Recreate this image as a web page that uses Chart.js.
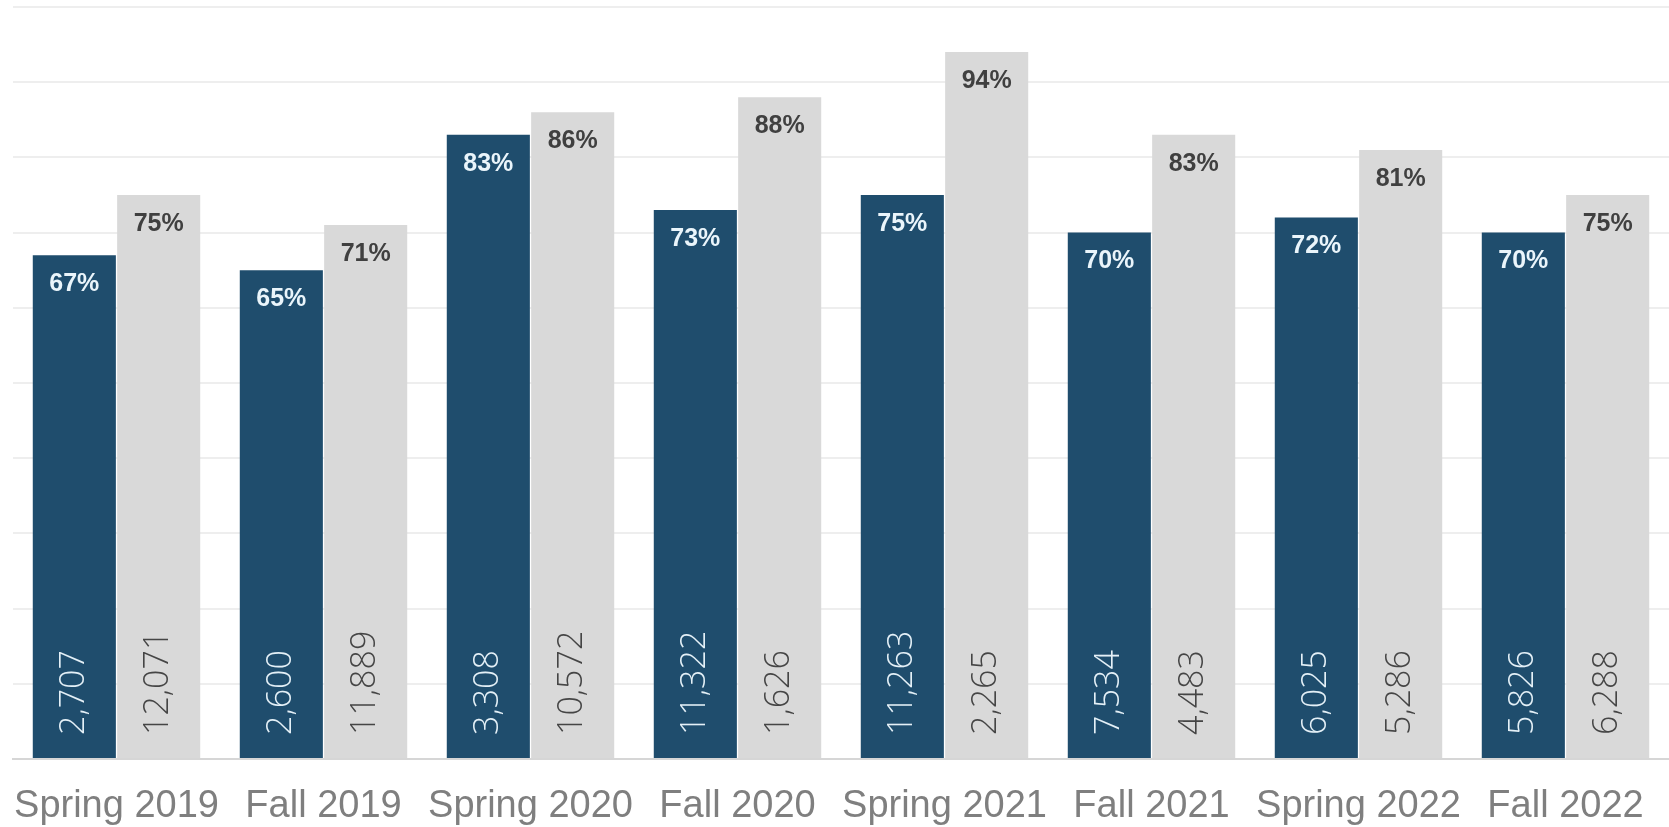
<!DOCTYPE html>
<html>
<head>
<meta charset="utf-8">
<script src="https://cdn.jsdelivr.net/npm/chart.js@4"></script>
<style>
  body { margin: 0; background: #fff; }
  #wrap { width: 1669px; height: 827px; }
</style>
</head>
<body>
<div id="wrap"><canvas id="termChart"></canvas></div>
<script>
const terms = ['Spring 2019', 'Fall 2019', 'Spring 2020', 'Fall 2020', 'Spring 2021', 'Fall 2021', 'Spring 2022', 'Fall 2022'];
const darkPct = [67, 65, 83, 73, 75, 70, 72, 70];
const lightPct = [75, 71, 86, 88, 94, 83, 81, 75];
const darkCount = [2707, 2600, 3308, 11322, 11263, 7534, 6025, 5826];
const lightCount = [12071, 11889, 10572, 1626, 2265, 4483, 5286, 6288];
const yTicks = [0, 10, 20, 30, 40, 50, 60, 70, 80, 90, 100];

const counts = [darkCount, lightCount];
const pctColors = ['#eaf5fb', '#404040'];
const countColors = ['#e4f0f7', '#454545'];

const barLabels = {
    id: 'barLabels',
    afterDatasetsDraw(chart) {
        const c = chart.ctx;
        chart.data.datasets.forEach((ds, i) => {
            const meta = chart.getDatasetMeta(i);
            meta.data.forEach((bar, j) => {
                c.save();
                c.fillStyle = pctColors[i];
                c.font = 'bold 25px "Liberation Sans", Arial, sans-serif';
                c.textAlign = 'center';
                c.textBaseline = 'middle';
                c.fillText(ds.data[j] + '%', bar.x, bar.y + 29);

                c.translate(bar.x, bar.base - 23);
                c.rotate(-Math.PI / 2);
                c.fillStyle = countColors[i];
                c.font = '300 34px "Open Sans", sans-serif';
                c.textAlign = 'left';
                c.textBaseline = 'middle';
                c.fillText(counts[i][j].toLocaleString('en-US'), 0, 0);
                c.restore();
            });
        });
    }
};

const ctx = document.getElementById('termChart').getContext('2d');
new Chart(ctx, {
    type: 'bar',
    data: {
        labels: terms,
        datasets: [
            {
                label: 'Group A',
                data: darkPct,
                backgroundColor: '#1f4d6d',
                categoryPercentage: 0.815,
                barPercentage: 0.985
            },
            {
                label: 'Group B',
                data: lightPct,
                backgroundColor: '#d9d9d9',
                categoryPercentage: 0.815,
                barPercentage: 0.985
            }
        ]
    },
    options: {
        responsive: true,
        maintainAspectRatio: false,
        animation: false,
        layout: { padding: { left: 13, top: 7, right: 0, bottom: 0 } },
        plugins: {
            legend: { display: false },
            tooltip: { enabled: false }
        },
        scales: {
            x: {
                grid: { display: false, drawTicks: false },
                border: { color: '#d6d6d6', width: 2 },
                afterFit: (axis) => {
                    axis.height = 68;
                    axis.paddingLeft = 0;
                    axis.paddingRight = 0;
                },
                ticks: {
                    color: '#7f7f7f',
                    padding: 25,
                    maxRotation: 0,
                    minRotation: 0,
                    autoSkip: false,
                    font: { family: '"Liberation Sans", Arial, sans-serif', size: 38 }
                }
            },
            y: {
                min: 0,
                max: 100,
                afterFit: (axis) => { axis.width = 0; },
                afterBuildTicks: (axis) => { axis.ticks = yTicks.map(v => ({ value: v })); },
                ticks: { display: false },
                grid: { color: '#eeeeee', lineWidth: 2, drawTicks: false },
                border: { display: false }
            }
        }
    },
    plugins: [barLabels]
});
</script>
</body>
</html>
